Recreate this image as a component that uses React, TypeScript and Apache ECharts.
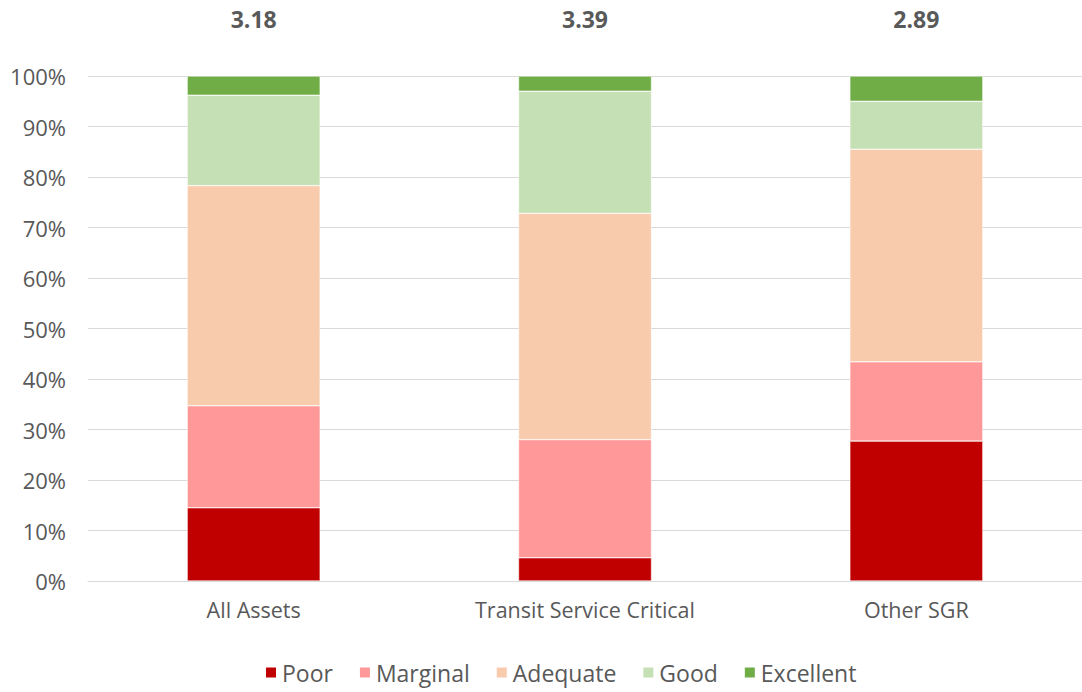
import React, { useEffect, useRef } from "react";
import * as echarts from "echarts";

const categories = ["All Assets", "Transit Service Critical", "Other SGR"];
const scores = ["3.18", "3.39", "2.89"];
const poor = [14.5, 4.6, 27.7];
const marginal = [20.2, 23.4, 15.7];
const adequate = [43.6, 44.8, 42.1];
const good = [17.9, 24.2, 9.5];
const excellent = [3.8, 3.0, 5.0];
const yTicks = [0, 10, 20, 30, 40, 50, 60, 70, 80, 90, 100];

const seriesDefs = [
  { name: "Poor", data: poor, color: "#C00000" },
  { name: "Marginal", data: marginal, color: "#FF9999" },
  { name: "Adequate", data: adequate, color: "#F8CBAD" },
  { name: "Good", data: good, color: "#C5E0B4" },
  { name: "Excellent", data: excellent, color: "#70AD47" },
];

const FONT = "'Open Sans', 'Noto Sans', sans-serif";
const TEXT = "#595959";

export default function App() {
  const ref = useRef<HTMLDivElement>(null);
  useEffect(() => {
    document.body.style.margin = "0";
    const chart = echarts.init(ref.current!, null, { renderer: "svg" });
    chart.setOption({
      animation: false,
      textStyle: { fontFamily: FONT },
      grid: { left: 88, right: -7, top: 76, bottom: 111, containLabel: false },
      legend: {
        bottom: 3,
        left: 259,
        itemWidth: 12,
        itemHeight: 12,
        itemGap: 25,
        icon: "rect",
        textStyle: { color: TEXT, fontSize: 23, fontFamily: FONT },
        data: seriesDefs.map((s) => s.name),
      },
      xAxis: [
        {
          type: "category",
          data: categories,
          position: "bottom",
          axisLine: { show: true, lineStyle: { color: "#d9d9d9", width: 1 } },
          axisTick: { show: false },
          axisLabel: { color: TEXT, fontSize: 21.5, margin: 17, fontFamily: FONT },
        },
        {
          type: "category",
          data: scores,
          position: "top",
          axisLine: { show: false },
          axisTick: { show: false },
          axisLabel: { color: TEXT, fontSize: 23, fontWeight: "bold", margin: 46, fontFamily: FONT },
        },
      ],
      yAxis: {
        type: "value",
        min: 0,
        max: 100,
        interval: 10,
        axisLine: { show: false },
        axisTick: { show: false },
        splitLine: { lineStyle: { color: "#d9d9d9", width: 1 } },
        axisLabel: {
          color: TEXT,
          fontSize: 22,
          margin: 22,
          fontFamily: FONT,
          formatter: (v: number) => (yTicks.includes(v) ? `${v}%` : ""),
        },
      },
      series: seriesDefs.map((s) => ({
        name: s.name,
        type: "bar",
        stack: "total",
        xAxisIndex: 0,
        barWidth: 133,
        data: s.data,
        itemStyle: { color: s.color, borderColor: "#ffffff", borderWidth: 0.5 },
      })),
    });
    return () => chart.dispose();
  }, []);
  return <div ref={ref} style={{ width: 1082, height: 692 }} />;
}
